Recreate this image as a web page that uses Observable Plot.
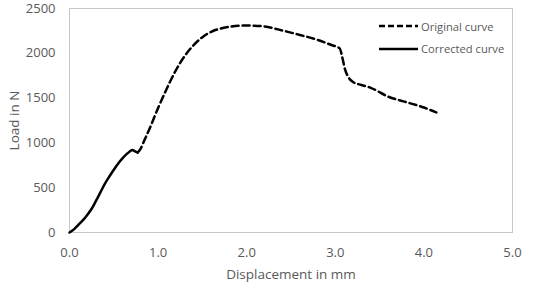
<!DOCTYPE html>
<html>
<head>
<meta charset="utf-8">
<script src="https://cdn.jsdelivr.net/npm/d3@7"></script>
<script src="https://cdn.jsdelivr.net/npm/@observablehq/plot@0.6"></script>
<style>
  html, body { margin: 0; padding: 0; background: #fff; }
  #wrap { position: relative; width: 533px; height: 284px; font-family: "Open Sans", sans-serif; }
  #wrap svg text { font-size: 13px; }
  #wrap svg g[aria-label="x-axis label"] text, #wrap svg g[aria-label="y-axis label"] text { font-size: 13.5px; }
  #legend { position: absolute; left: 379px; top: 15px; font-size: 11.2px; color: #595959; }
  .item { display: flex; align-items: center; height: 22.5px; }
  .item svg { margin-right: 3px; }
</style>
</head>
<body>
<div id="wrap"><div id="legend"></div></div>
<script>
// Tick values
const xTicks = [0, 1, 2, 3, 4, 5];
const yTicks = [0, 500, 1000, 1500, 2000, 2500];

// Corrected curve (solid)
const correctedX = [0, 0.05, 0.1, 0.15, 0.2, 0.25, 0.3, 0.35, 0.4, 0.45, 0.5, 0.55, 0.6, 0.65, 0.68, 0.71, 0.74, 0.77];
const correctedY = [0, 35, 85, 135, 195, 265, 355, 450, 545, 625, 700, 770, 830, 880, 905, 922, 905, 893];

// Original curve (dashed)
const originalX = [0.77, 0.8, 0.85, 0.9, 1.0, 1.1, 1.2, 1.3, 1.4, 1.5, 1.6, 1.7, 1.8, 2.0, 2.2, 2.4, 2.6, 2.8, 2.95, 3.05, 3.08, 3.11, 3.15, 3.2, 3.28, 3.4, 3.6, 3.8, 4.0, 4.14];
const originalY = [893, 930, 1040, 1150, 1390, 1610, 1810, 1970, 2090, 2180, 2240, 2275, 2295, 2310, 2300, 2255, 2205, 2150, 2095, 2055, 1950, 1820, 1730, 1680, 1650, 1615, 1515, 1455, 1395, 1340];

const legendLabels = ["Original curve", "Corrected curve"];
const legendDash = ["6,3", null];

const corrected = correctedX.map((x, i) => ({x, y: correctedY[i]}));
const original = originalX.map((x, i) => ({x, y: originalY[i]}));

const chart = Plot.plot({
  width: 533,
  height: 284,
  marginLeft: 69,
  marginRight: 21,
  marginTop: 8,
  marginBottom: 52,
  style: {fontFamily: "Open Sans, sans-serif", fontSize: "13px", color: "#595959", background: "white", overflow: "visible"},
  x: {domain: [0, 5]},
  y: {domain: [0, 2500]},
  marks: [
    Plot.frame({stroke: "#c8c8c8", strokeWidth: 1}),
    Plot.axisX(xTicks, {tickSize: 0, tickPadding: 15, tickFormat: d3.format(".1f"), label: "Displacement in mm", labelAnchor: "center", labelOffset: 46, labelArrow: "none", fill: "#595959"}),
    Plot.axisY(yTicks, {tickSize: 0, tickPadding: 14, tickFormat: d3.format("d"), label: "Load in N", labelAnchor: "center", labelOffset: 60, labelArrow: "none", fill: "#595959"}),
    Plot.line(original, {x: "x", y: "y", stroke: "black", strokeWidth: 2.5, strokeDasharray: "7,4", curve: "monotone-x"}),
    Plot.line(corrected, {x: "x", y: "y", stroke: "black", strokeWidth: 2.5, curve: "monotone-x"})
  ]
});
document.getElementById("wrap").prepend(chart);

const legend = document.getElementById("legend");
legendLabels.forEach((lab, i) => {
  const row = document.createElement("div");
  row.className = "item";
  const ns = "http://www.w3.org/2000/svg";
  const s = document.createElementNS(ns, "svg");
  s.setAttribute("width", 39); s.setAttribute("height", 6);
  const l = document.createElementNS(ns, "line");
  l.setAttribute("x1", 0); l.setAttribute("x2", 39); l.setAttribute("y1", 3); l.setAttribute("y2", 3);
  l.setAttribute("stroke", "black"); l.setAttribute("stroke-width", 2.5);
  if (legendDash[i]) l.setAttribute("stroke-dasharray", legendDash[i]);
  s.appendChild(l);
  row.appendChild(s);
  const t = document.createElement("span");
  t.textContent = lab;
  row.appendChild(t);
  legend.appendChild(row);
});
</script>
</body>
</html>
